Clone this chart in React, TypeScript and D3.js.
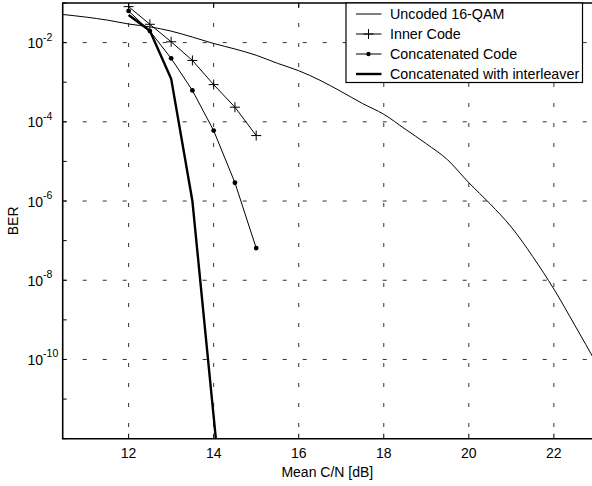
import React from 'react';
import * as d3 from 'd3';

// x: mean C/N in dB, y: bit error rate
const snrUncoded = [10.4, 11, 11.5, 12, 12.5, 13, 13.5, 14, 14.5, 15, 15.5, 16, 16.5, 17, 17.5, 18, 18.5, 19, 19.5, 20, 20.5, 21, 21.5, 22, 22.5, 23];
const berUncoded = [5.2e-2, 4.4e-2, 3.7e-2, 2.95e-2, 2.5e-2, 1.95e-2, 1.38e-2, 9.5e-3, 6.9e-3, 4.8e-3, 3.0e-3, 1.95e-3, 1.12e-3, 5.8e-4, 2.9e-4, 1.55e-4, 6.6e-5, 2.8e-5, 1.1e-5, 2.9e-6, 8.5e-7, 2.2e-7, 4.0e-8, 6.0e-9, 7.1e-10, 8e-11];

const snrCoded = [12, 12.5, 13, 13.5, 14, 14.5, 15];
const berInner = [8.1e-2, 2.9e-2, 1.05e-2, 3.55e-3, 8.7e-4, 2.34e-4, 4.5e-5];
const berConcat = [6.3e-2, 1.95e-2, 4.0e-3, 6.2e-4, 6.0e-5, 2.9e-6, 6.5e-8];

const snrInterleaved = [12, 12.5, 13, 13.5, 14, 14.5];
const berInterleaved = [5.0e-2, 2.0e-2, 1.23e-3, 1.0e-6, 3.6e-12, 1.3e-17];

const xTicks = [12, 14, 16, 18, 20, 22];
const yLabelExps = [-2, -4, -6, -8, -10];
const yTickExps = [-1, -2, -3, -4, -5, -6, -7, -8, -9, -10, -11, -12];

const legendItems = ['Uncoded 16-QAM', 'Inner Code', 'Concatenated Code', 'Concatenated with interleaver'];

const W = 592, H = 486;
const left = 62.7, top = 3, right = 593, bottom = 438.7;
const font = 'Liberation Sans, Arial, sans-serif';

export default function App() {
  const x = d3.scaleLinear().domain([10.45, 22.92]).range([left, right]);
  const y = d3.scaleLog().domain([1e-12, 1e-1]).range([bottom, top]);

  const line = (xs: number[], ys: number[], curve = d3.curveLinear) =>
    d3.line<number>().x((_, i) => x(xs[i])).y((d) => y(d)).curve(curve)(ys) || '';

  const gridStyle = { stroke: '#333', strokeWidth: 1, strokeDasharray: '4,16' };

  return (
    <svg width={W} height={H} style={{ position: 'absolute', left: 0, top: 0, background: '#fff' }} fontFamily={font}>
      <defs>
        <clipPath id="plot">
          <rect x={left} y={top} width={right - left} height={bottom - top} />
        </clipPath>
      </defs>
      <rect width={W} height={H} fill="#fff" />

      {/* grid */}
      {xTicks.map((t) => (
        <line key={'gx' + t} x1={x(t)} x2={x(t)} y1={top} y2={bottom} {...gridStyle} />
      ))}
      {yLabelExps.map((e) => (
        <line key={'gy' + e} x1={left} x2={right} y1={y(Math.pow(10, e))} y2={y(Math.pow(10, e))} {...gridStyle} />
      ))}

      {/* ticks */}
      {xTicks.map((t) => (
        <g key={'tx' + t}>
          <line x1={x(t)} x2={x(t)} y1={bottom} y2={bottom - 5} stroke="#000" />
          <line x1={x(t)} x2={x(t)} y1={top} y2={top + 5} stroke="#000" />
          <text x={x(t)} y={458} fontSize={14} textAnchor="middle">{t}</text>
        </g>
      ))}
      {yTickExps.map((e) => (
        <line key={'ty' + e} x1={left} x2={left + 4} y1={y(Math.pow(10, e))} y2={y(Math.pow(10, e))} stroke="#000" />
      ))}
      {yLabelExps.map((e) => (
        <text key={'ly' + e} x={27.5} y={y(Math.pow(10, e)) + 5.5} fontSize={14}>
          10<tspan fontSize={10.5} dy={-7.5}>{e}</tspan>
        </text>
      ))}

      {/* curves */}
      <g clipPath="url(#plot)" fill="none" stroke="#000">
        <path d={line(snrUncoded, berUncoded, d3.curveMonotoneX)} strokeWidth={1} />
        <path d={line(snrCoded, berInner)} strokeWidth={1} />
        <path d={line(snrCoded, berConcat)} strokeWidth={1} />
        <path d={line(snrInterleaved, berInterleaved)} strokeWidth={2.4} strokeLinejoin="round" />
        {berInner.map((b, i) => (
          <path key={'p' + i} d={`M${x(snrCoded[i]) - 5},${y(b)}h10M${x(snrCoded[i])},${y(b) - 5}v10`} strokeWidth={1} />
        ))}
        {berConcat.map((b, i) => (
          <circle key={'c' + i} cx={x(snrCoded[i])} cy={y(b)} r={2.4} fill="#000" stroke="none" />
        ))}
      </g>

      {/* axes */}
      <path d={`M${right},${top}H${left}V${bottom}H${right}`} fill="none" stroke="#000" strokeWidth={1.6} />

      {/* legend */}
      <g>
        <rect x={346} y={top} width={236.5} height={79.5} fill="#fff" stroke="#000" strokeWidth={1.2} />
        {legendItems.map((label, i) => {
          const cy = 14 + i * 20;
          return (
            <g key={label}>
              <line x1={356} x2={381.5} y1={cy} y2={cy} stroke="#000" strokeWidth={i === 3 ? 2.4 : 1} />
              {i === 1 && <path d={`M${368.5 - 5},${cy}h10M368.5,${cy - 5}v10`} stroke="#000" />}
              {i === 2 && <circle cx={368.5} cy={cy} r={2.2} fill="#000" />}
              <text x={390} y={cy + 5} fontSize={14.3}>{label}</text>
            </g>
          );
        })}
      </g>

      {/* axis titles */}
      <text x={(left + 592) / 2} y={477} fontSize={14} textAnchor="middle">Mean C/N [dB]</text>
      <text transform={`translate(18,${(top + bottom) / 2}) rotate(-90)`} fontSize={14} textAnchor="middle">BER</text>
    </svg>
  );
}
